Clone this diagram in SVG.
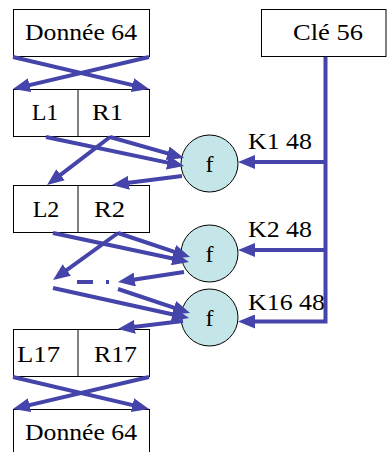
<svg xmlns="http://www.w3.org/2000/svg" width="387" height="452" viewBox="0 0 387 452">
<style>
.box{fill:#fff;stroke:#000;stroke-width:1}
.fn{fill:#C5E6E8;stroke:#000;stroke-width:1}
.c{text-anchor:middle}
.w{fill:none;stroke:#4444AA;stroke-width:4;marker-end:url(#ah)}
.p{fill:none;stroke:#4444AA;stroke-width:4}
</style>
<defs>
<marker id="ah" markerUnits="userSpaceOnUse" markerWidth="17" markerHeight="14" refX="10" refY="7" orient="auto" viewBox="0 0 17 14">
<path d="M0,0 L17,7 L0,14 z" fill="#4444AA"/>
</marker>
</defs>
<rect width="387" height="452" fill="#fff"/>
<g font-family="'Liberation Serif', serif" font-size="24" fill="#000">
<g id="donnee-top">
<rect class="box" x="13.5" y="9.5" width="136" height="47"/>
<text class="c" x="81" y="40" textLength="112" lengthAdjust="spacingAndGlyphs">Donnée 64</text>
</g>
<g id="cle">
<rect class="box" x="261.5" y="9.5" width="124.5" height="47"/>
<text class="c" x="328" y="40" textLength="70" lengthAdjust="spacingAndGlyphs">Clé 56</text>
</g>
<g id="lr1">
<rect class="box" x="13.5" y="89.5" width="136" height="47"/>
<line x1="78" y1="89.5" x2="78" y2="136.5" stroke="#000"/>
<text class="c" x="45" y="120">L1</text>
<text class="c" x="107.5" y="120" textLength="31" lengthAdjust="spacingAndGlyphs">R1</text>
</g>
<g id="lr2">
<rect class="box" x="13.5" y="185.5" width="136" height="47"/>
<line x1="78" y1="185.5" x2="78" y2="232.5" stroke="#000"/>
<text class="c" x="46" y="217">L2</text>
<text class="c" x="109.5" y="217" textLength="31" lengthAdjust="spacingAndGlyphs">R2</text>
</g>
<g id="lr17">
<rect class="box" x="13.5" y="329.5" width="136" height="47"/>
<line x1="78" y1="329.5" x2="78" y2="376.5" stroke="#000"/>
<text class="c" x="38.5" y="362" textLength="43" lengthAdjust="spacingAndGlyphs">L17</text>
<text class="c" x="115.5" y="362" textLength="43" lengthAdjust="spacingAndGlyphs">R17</text>
</g>
<g id="donnee-bottom">
<rect class="box" x="13.5" y="409.5" width="136" height="60"/>
<text class="c" x="81" y="440" textLength="112" lengthAdjust="spacingAndGlyphs">Donnée 64</text>
</g>
<g id="f1">
<circle class="fn" cx="209.5" cy="163.5" r="28.5"/>
<text class="c" x="209.5" y="172">f</text>
</g>
<g id="f2">
<circle class="fn" cx="209.5" cy="253.5" r="28.5"/>
<text class="c" x="209.5" y="262">f</text>
</g>
<g id="f3">
<circle class="fn" cx="209.5" cy="317.5" r="28.5"/>
<text class="c" x="209.5" y="326">f</text>
</g>
<g id="labels">
<text x="248" y="149" textLength="64" lengthAdjust="spacingAndGlyphs">K1 48</text>
<text x="248" y="237" textLength="64" lengthAdjust="spacingAndGlyphs">K2 48</text>
<text x="248" y="310" textLength="77" lengthAdjust="spacingAndGlyphs">K16 48</text>
</g>
</g>
<g id="connectors">
<line class="w" x1="13" y1="57" x2="142.2" y2="87.4"/>
<line class="w" x1="149" y1="57" x2="19.8" y2="87.4"/>
<line class="w" x1="46" y1="137" x2="177.2" y2="164.6"/>
<line class="w" x1="110" y1="137" x2="177.3" y2="156.1"/>
<line class="w" x1="110" y1="137" x2="52.6" y2="180.8"/>
<line class="w" x1="182" y1="176" x2="118.9" y2="184.1"/>
<line class="w" x1="53" y1="233" x2="182.2" y2="260.5"/>
<line class="w" x1="118" y1="233" x2="183.4" y2="254.8"/>
<line class="w" x1="118" y1="233" x2="58.7" y2="275.9"/>
<line class="w" x1="184" y1="272" x2="124.9" y2="281"/>
<line class="p" x1="77" y1="282" x2="93" y2="282"/>
<line class="p" x1="106" y1="282" x2="109" y2="282"/>
<line class="w" x1="53" y1="288" x2="182.2" y2="316.5"/>
<line class="w" x1="118" y1="289" x2="183.4" y2="310.8"/>
<line class="w" x1="183" y1="321" x2="124.9" y2="328.1"/>
<line class="w" x1="13" y1="377" x2="142.2" y2="407.4"/>
<line class="w" x1="149" y1="377" x2="19.8" y2="407.4"/>
<path class="w" d="M325.5,57 V321.5 H245"/>
<line class="w" x1="325.5" y1="162" x2="245" y2="162"/>
<line class="w" x1="325.5" y1="250" x2="245" y2="250"/>
</g>
</svg>
